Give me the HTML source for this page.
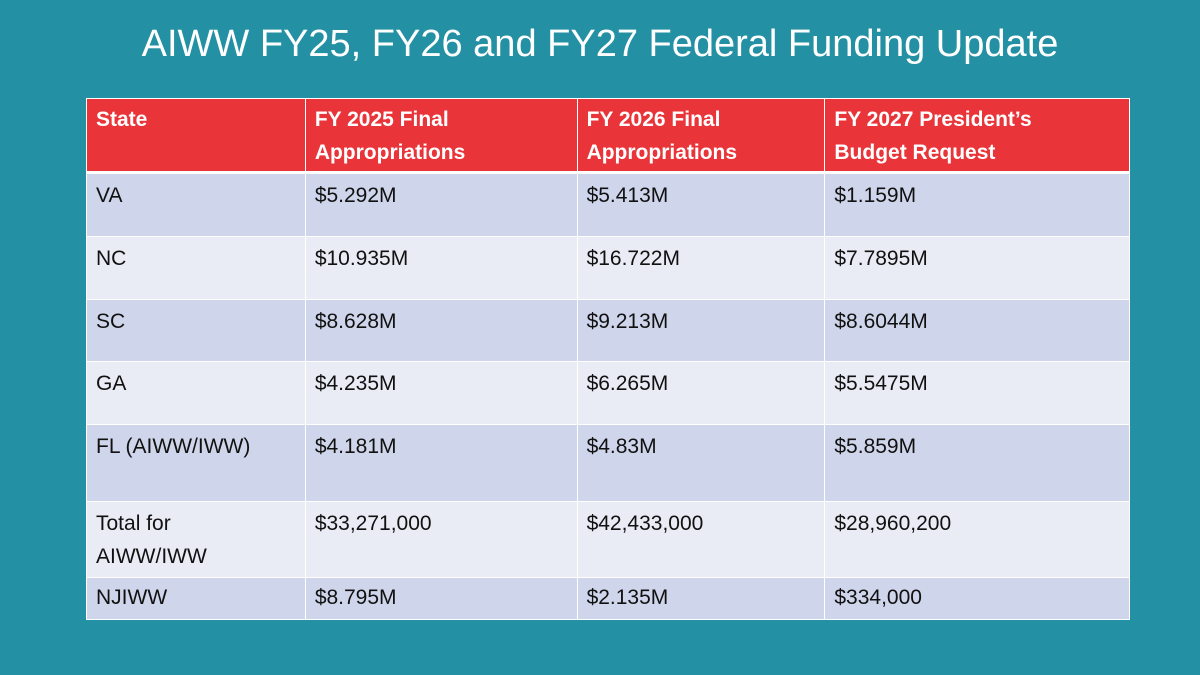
<!DOCTYPE html>
<html><head><style>
body{margin:0;width:1200px;height:675px;background:#2490a3;overflow:hidden;font-family:"Liberation Sans",sans-serif;}
h1{position:absolute;left:0;top:23px;width:1200px;margin:0;text-align:center;color:#fff;font-weight:normal;font-size:38px;}
table{position:absolute;left:86px;top:98px;width:1044px;border-collapse:collapse;}
td{border:1.5px solid #fff;vertical-align:top;padding:5px 9px 2px;font-size:21px;color:#111;line-height:33px;box-sizing:border-box}
tr.h td{background:#e9353a;color:#fff;font-weight:bold;border-bottom:3px solid #fff;line-height:33px;padding-top:4px;padding-bottom:1px}
tr.d td{background:#cfd5ea}
tr.l td{background:#e9ebf5}
</style></head><body>
<h1>AIWW FY25, FY26 and FY27 Federal Funding Update</h1>
<table>
<colgroup><col style="width:219px"><col style="width:272px"><col style="width:248px"><col style="width:305px"></colgroup>
<tr class="h" style="height:74px"><td>State</td><td>FY 2025 Final<br>Appropriations</td><td>FY 2026 Final<br>Appropriations</td><td>FY 2027 President’s<br>Budget Request</td></tr>
<tr class="d" style="height:64px"><td>VA</td><td>$5.292M</td><td>$5.413M</td><td>$1.159M</td></tr>
<tr class="l" style="height:63px"><td>NC</td><td>$10.935M</td><td>$16.722M</td><td>$7.7895M</td></tr>
<tr class="d" style="height:62px"><td>SC</td><td>$8.628M</td><td>$9.213M</td><td>$8.6044M</td></tr>
<tr class="l" style="height:63px"><td>GA</td><td>$4.235M</td><td>$6.265M</td><td>$5.5475M</td></tr>
<tr class="d" style="height:77px"><td>FL (AIWW/IWW)</td><td>$4.181M</td><td>$4.83M</td><td>$5.859M</td></tr>
<tr class="l" style="height:76px"><td>Total for<br>AIWW/IWW</td><td>$33,271,000</td><td>$42,433,000</td><td>$28,960,200</td></tr>
<tr class="d" style="height:42px"><td style="padding-top:3px;padding-bottom:3px">NJIWW</td><td style="padding-top:3px;padding-bottom:3px">$8.795M</td><td style="padding-top:3px;padding-bottom:3px">$2.135M</td><td style="padding-top:3px;padding-bottom:3px">$334,000</td></tr>
</table>
</body></html>
